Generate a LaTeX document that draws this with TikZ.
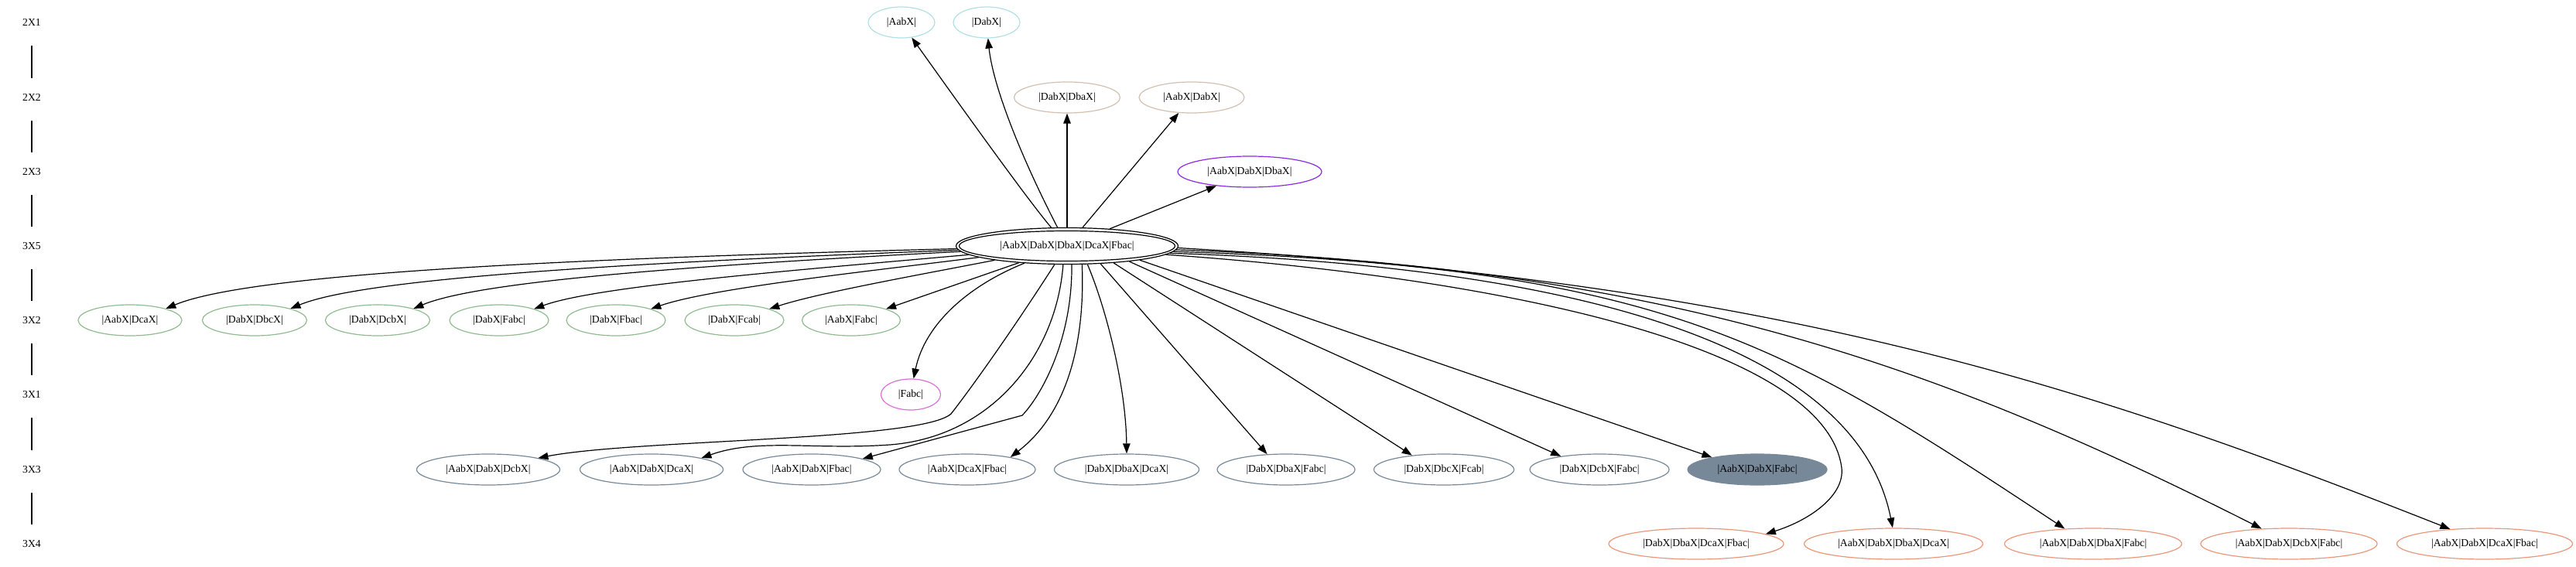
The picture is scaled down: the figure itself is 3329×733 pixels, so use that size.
\documentclass[tikz,border=0pt]{standalone}
\usepackage{fontspec}
\setmainfont{Liberation Serif}
\usetikzlibrary{shapes.geometric,arrows.meta}
\definecolor{cyc}{RGB}{176,224,230}
\definecolor{tnc}{RGB}{210,192,176}
\definecolor{puc}{RGB}{138,43,226}
\definecolor{grc}{RGB}{143,188,143}
\definecolor{orc}{RGB}{218,112,214}
\definecolor{slc}{RGB}{119,136,153}
\definecolor{sac}{RGB}{233,150,122}
\begin{document}
\begin{tikzpicture}[x=1pt,y=-1pt,
  every node/.style={font=\fontsize{13.7pt}{16pt}\selectfont},
  nd/.style={ellipse,draw,line width=1.2pt,inner sep=0pt,minimum height=40pt},
  cyn/.style={nd,draw=cyc},
  tan/.style={nd,draw=tnc},
  pur/.style={nd,draw=puc},
  grn/.style={nd,draw=grc},
  orc/.style={nd,draw=orc},
  slt/.style={nd,draw=slc},
  sal/.style={nd,draw=sac},
  arr/.style={line width=1.2pt,-{Triangle[length=13pt,width=9.5pt]}},
  vl/.style={line width=1.4pt},
  lab/.style={inner sep=0pt}]
\useasboundingbox (0,0) rectangle (3329,733);

% rank labels
\node[lab] (l1) at (41,29) {2X1};
\node[lab] (l2) at (41,126) {2X2};
\node[lab] (l3) at (41,222) {2X3};
\node[lab] (l4) at (41,318) {3X5};
\node[lab] (l5) at (41,414) {3X2};
\node[lab] (l6) at (41,510) {3X1};
\node[lab] (l7) at (41,607) {3X3};
\node[lab] (l8) at (41,703) {3X4};
\draw[vl] ([yshift=-30pt]l1.center) -- ([yshift=25pt]l2.center);
\draw[vl] ([yshift=-30pt]l2.center) -- ([yshift=25pt]l3.center);
\draw[vl] ([yshift=-30pt]l3.center) -- ([yshift=25pt]l4.center);
\draw[vl] ([yshift=-30pt]l4.center) -- ([yshift=25pt]l5.center);
\draw[vl] ([yshift=-30pt]l5.center) -- ([yshift=25pt]l6.center);
\draw[vl] ([yshift=-30pt]l6.center) -- ([yshift=25pt]l7.center);
\draw[vl] ([yshift=-30pt]l7.center) -- ([yshift=25pt]l8.center);

% nodes
\node[cyn,minimum width=86pt] (n1) at (1165,29) {|AabX|};
\node[cyn,minimum width=86pt] (n2) at (1275,29) {|DabX|};
\node[tan,minimum width=137pt] (n3) at (1379,126) {|DabX|DbaX|};
\node[tan,minimum width=136pt] (n4) at (1540,126) {|AabX|DabX|};
\node[pur,minimum width=186pt] (n5) at (1615,222) {|AabX|DabX|DbaX|};
\node[nd,minimum width=287pt,minimum height=47pt] (c) at (1379,318) {|AabX|DabX|DbaX|DcaX|Fbac|};
\draw[line width=1.2pt] (c.center) ellipse [x radius=139.5pt, y radius=19.5pt];

\node[grn,minimum width=134pt] (g1) at (168,414) {|AabX|DcaX|};
\node[grn,minimum width=135pt] (g2) at (329,414) {|DabX|DbcX|};
\node[grn,minimum width=135pt] (g3) at (488,414) {|DabX|DcbX|};
\node[grn,minimum width=128pt] (g4) at (645,414) {|DabX|Fabc|};
\node[grn,minimum width=128pt] (g5) at (796,414) {|DabX|Fbac|};
\node[grn,minimum width=128pt] (g6) at (949,414) {|DabX|Fcab|};
\node[grn,minimum width=127pt] (g7) at (1100,414) {|AabX|Fabc|};

\node[orc,minimum width=77pt] (f) at (1177,510) {|Fabc|};

\node[slt,minimum width=185pt] (s1) at (631,607) {|AabX|DabX|DcbX|};
\node[slt,minimum width=185pt] (s2) at (842,607) {|AabX|DabX|DcaX|};
\node[slt,minimum width=178pt] (s3) at (1049,607) {|AabX|DabX|Fbac|};
\node[slt,minimum width=176pt] (s4) at (1250,607) {|AabX|DcaX|Fbac|};
\node[slt,minimum width=187pt] (s5) at (1456,607) {|DabX|DbaX|DcaX|};
\node[slt,minimum width=178pt] (s6) at (1662,607) {|DabX|DbaX|Fabc|};
\node[slt,minimum width=181pt] (s7) at (1866,607) {|DabX|DbcX|Fcab|};
\node[slt,minimum width=180pt] (s8) at (2067,607) {|DabX|DcbX|Fabc|};
\node[slt,fill=slc,minimum width=180pt] (s9) at (2271,607) {|AabX|DabX|Fabc|};

\node[sal,minimum width=226pt] (r1) at (2192,703) {|DabX|DbaX|DcaX|Fbac|};
\node[sal,minimum width=231pt] (r2) at (2447,703) {|AabX|DabX|DbaX|DcaX|};
\node[sal,minimum width=229pt] (r3) at (2705,703) {|AabX|DabX|DbaX|Fabc|};
\node[sal,minimum width=228pt] (r4) at (2958,703) {|AabX|DabX|DcbX|Fabc|};
\node[sal,minimum width=227pt] (r5) at (3211,703) {|AabX|DabX|DcaX|Fbac|};

% upward edges
\draw[arr] (c) .. controls (1325,255) and (1215,100) .. (n1.-56);
\draw[arr] (c) .. controls (1318,200) and (1283,110) .. (n2.-85);
\draw[arr] (c) -- (n3);
\draw[arr] (c) -- (n4.-130);
\draw[arr] (c) -- (n5.-157);

% edges to rank 3X2
\draw[arr] (c) .. controls (700,335) and (320,355) .. (g1.18);
\draw[arr] (c) .. controls (800,340) and (470,360) .. (g2.18);
\draw[arr] (c) .. controls (900,343) and (620,363) .. (g3.18);
\draw[arr] (c) .. controls (1020,350) and (770,370) .. (g4.18);
\draw[arr] (c) .. controls (1130,350) and (920,372) .. (g5.18);
\draw[arr] (c) .. controls (1190,355) and (1060,378) .. (g6.18);
\draw[arr] (c) -- (g7.18);

% edge to rank 3X1
\draw[arr] (c) .. controls (1250,370) and (1195,420) .. (f.80);

% edges to rank 3X3
\draw[arr] (c.-124) .. controls (1300,440) and (1245,515) .. (1229,535)
  .. controls (1190,570) and (820,568) .. (s1.13);
\draw[arr] (c.-102) .. controls (1365,460) and (1280,565) .. (1150,575)
  .. controls (1050,582) and (980,566) .. (s2.13);
\draw[arr] (c.-76) .. controls (1386,440) and (1345,512) .. (1321,537) -- (s3.12);
\draw[arr] (c.-51) .. controls (1402,430) and (1385,530) .. (s4.16);
\draw[arr] (c.-42) .. controls (1430,400) and (1455,500) .. (s5.90);
\draw[arr] (c.-28) -- (s6.141);
\draw[arr] (c.-20) -- (s7.156);
\draw[arr] (c.-14) -- (s8.161);
\draw[arr] (c.-11) -- (s9.165);

% edges to rank 3X4
\draw[arr] (c.-5) .. controls (1950,360) and (2360,450) .. (2380,605)
  .. controls (2384,640) and (2340,672) .. (r1.8);
\draw[arr] (c.-4) .. controls (2050,345) and (2400,450) .. (r2.93);
\draw[arr] (c.-3) .. controls (2150,345) and (2300,440) .. (r3.152);
\draw[arr] (c.-2) .. controls (2150,345) and (2500,470) .. (r4.151);
\draw[arr] (c.-1) .. controls (2300,365) and (2700,500) .. (r5.157);
\end{tikzpicture}
\end{document}
